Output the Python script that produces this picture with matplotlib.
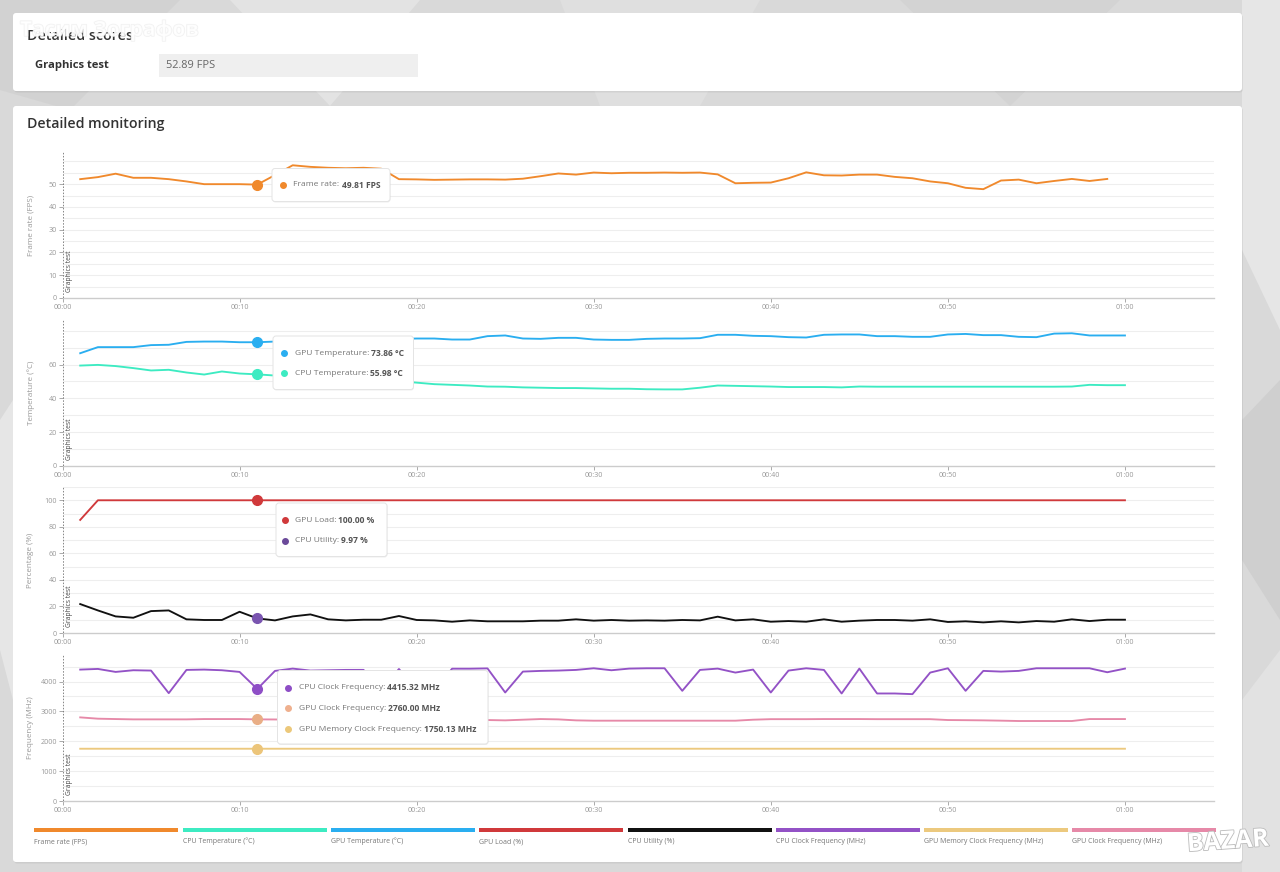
import numpy as np
import matplotlib.pyplot as plt
import matplotlib as mpl
from matplotlib.patches import FancyBboxPatch, Rectangle, Polygon
import matplotlib.patheffects as pe

mpl.rcParams.update({
    "font.family": ["Open Sans", "DejaVu Sans"],
    "font.size": 6,
    "axes.linewidth": 0.8,
})

W, H = 1280, 872

# ---- data (one sample per second, starting at 00:01) ----
seconds = list(range(1, 61))

frame_rate = [52.2, 53.1, 54.6, 52.8, 52.8, 52.2, 51.2, 50.0, 50.0, 50.0,
              49.81, 54.0, 58.3, 57.6, 57.2, 57.0, 57.2, 56.8, 52.2, 52.1,
              51.9, 52.0, 52.1, 52.1, 52.0, 52.4, 53.5, 54.7, 54.2, 55.1,
              54.8, 55.0, 55.0, 55.1, 55.0, 55.1, 54.3, 50.4, 50.6, 50.7,
              52.6, 55.2, 53.9, 53.8, 54.2, 54.2, 53.2, 52.6, 51.2, 50.4,
              48.4, 47.8, 51.6, 52.0, 50.4, 51.4, 52.3, 51.4, 52.3]

gpu_temp = [66.7, 70.3, 70.3, 70.3, 71.5, 71.7, 73.4, 73.6, 73.6, 73.2,
            73.2, 73.6, 74.0, 74.3, 74.6, 74.8, 75.0, 75.0, 75.2, 75.4,
            75.4, 74.8, 74.8, 76.8, 77.2, 75.4, 75.2, 75.8, 75.8, 74.8,
            74.6, 74.6, 75.2, 75.4, 75.4, 75.6, 77.6, 77.6, 77.0, 76.8,
            76.2, 76.0, 77.6, 77.8, 77.8, 76.8, 76.8, 76.4, 76.4, 77.8,
            78.1, 77.4, 77.4, 76.4, 76.2, 78.3, 78.5, 77.2, 77.2, 77.2]

cpu_temp = [59.4, 59.8, 59.1, 57.9, 56.5, 56.9, 55.3, 54.1, 55.9, 54.7,
            54.2, 53.5, 53.0, 52.5, 52.0, 51.5, 51.0, 50.6, 50.2, 49.3,
            48.4, 48.0, 47.6, 47.0, 46.9, 46.5, 46.3, 46.1, 46.1, 45.9,
            45.7, 45.7, 45.4, 45.3, 45.3, 46.3, 47.6, 47.4, 47.2, 47.0,
            46.7, 46.7, 46.7, 46.5, 47.0, 46.9, 46.9, 46.9, 46.9, 46.9,
            46.9, 46.9, 46.9, 46.9, 46.9, 46.9, 47.0, 48.0, 47.8, 47.8]

gpu_load = [85.2, 100.0, 100.0, 100.0, 100.0, 100.0, 100.0, 100.0, 100.0, 100.0,
            100.0, 100.0, 100.0, 100.0, 100.0, 100.0, 100.0, 100.0, 100.0, 100.0,
            100.0, 100.0, 100.0, 100.0, 100.0, 100.0, 100.0, 100.0, 100.0, 100.0,
            100.0, 100.0, 100.0, 100.0, 100.0, 100.0, 100.0, 100.0, 100.0, 100.0,
            100.0, 100.0, 100.0, 100.0, 100.0, 100.0, 100.0, 100.0, 100.0, 100.0,
            100.0, 100.0, 100.0, 100.0, 100.0, 100.0, 100.0, 100.0, 100.0, 100.0]

cpu_util = [21.8, 17.0, 12.5, 11.5, 16.5, 17.0, 10.3, 9.8, 9.8, 16.0,
            11.0, 9.5, 12.5, 14.0, 10.3, 9.5, 10.0, 10.0, 12.8, 9.8,
            9.5, 8.5, 9.5, 8.8, 8.8, 8.8, 9.3, 9.3, 10.3, 9.3,
            9.8, 9.3, 9.5, 9.3, 9.8, 9.5, 12.3, 9.5, 10.3, 8.5,
            9.0, 8.5, 10.3, 8.5, 9.3, 9.8, 9.8, 9.3, 10.3, 8.3,
            8.8, 8.0, 8.8, 8.0, 9.0, 8.5, 10.3, 9.0, 10.0, 10.0]

cpu_clock = [4400, 4422, 4322, 4378, 4367, 3611, 4389, 4400, 4378, 4322,
             3750, 4356, 4433, 4367, 4378, 4389, 4390, 3700, 4420, 3700,
             3680, 4430, 4430, 4440, 3633, 4333, 4356, 4367, 4389, 4444,
             4378, 4433, 4444, 4444, 3689, 4389, 4433, 4300, 4400, 3633,
             4367, 4444, 4389, 3600, 4433, 3600, 3600, 3578, 4300, 4444,
             3689, 4356, 4333, 4356, 4444, 4444, 4444, 4444, 4311, 4433]

gpu_clock = [2800, 2756, 2744, 2733, 2733, 2733, 2733, 2744, 2744, 2744,
             2733, 2730, 2725, 2722, 2720, 2720, 2718, 2716, 2715, 2714,
             2713, 2712, 2711, 2711, 2700, 2722, 2744, 2733, 2700, 2689,
             2689, 2689, 2689, 2689, 2689, 2689, 2689, 2689, 2722, 2740,
             2740, 2740, 2744, 2744, 2744, 2740, 2740, 2740, 2740, 2711,
             2706, 2700, 2690, 2678, 2678, 2678, 2678, 2744, 2744, 2744]

mem_clock = [1750, 1750, 1750, 1750, 1750, 1750, 1750, 1750, 1750, 1750,
             1750.13, 1750, 1750, 1750, 1750, 1750, 1750, 1750, 1750, 1750,
             1750, 1750, 1750, 1750, 1750, 1750, 1750, 1750, 1750, 1750,
             1750, 1750, 1750, 1750, 1750, 1750, 1750, 1750, 1750, 1750,
             1750, 1750, 1750, 1750, 1750, 1750, 1750, 1750, 1750, 1750,
             1750, 1750, 1750, 1750, 1750, 1750, 1750, 1750, 1750, 1750]

xtick_vals = [0, 10, 20, 30, 40, 50, 60]
xtick_labels = ["00:00", "00:10", "00:20", "00:30", "00:40", "00:50", "01:00"]

ylabels = ["Frame rate (FPS)", "Temperature (°C)", "Percentage (%)", "Frequency (MHz)"]
yticks = [[0, 10, 20, 30, 40, 50],
          [0, 20, 40, 60],
          [0, 20, 40, 60, 80, 100],
          [0, 1000, 2000, 3000, 4000]]
grid_steps = [5, 10, 10, 500]

C_FPS, C_CPUT, C_GPUT = "#f0892c", "#3debc2", "#2aaef0"
C_LOAD, C_UTIL, C_CPUF = "#d0393b", "#111111", "#9352c6"
C_MEM, C_GPUF = "#ecc97e", "#e689a8"

# (series, line colour, hover-marker colour)
panel_series = [
    [(frame_rate, C_FPS, C_FPS)],
    [(gpu_temp, C_GPUT, C_GPUT), (cpu_temp, C_CPUT, C_CPUT)],
    [(gpu_load, C_LOAD, C_LOAD), (cpu_util, C_UTIL, "#7a55b0")],
    [(cpu_clock, C_CPUF, "#8e4ec6"), (gpu_clock, C_GPUF, "#e9ae86"), (mem_clock, C_MEM, "#ecc57a")],
]
hover_t = 11

legend_names = ["Frame rate (FPS)", "CPU Temperature (°C)", "GPU Temperature (°C)", "GPU Load (%)",
                "CPU Utility (%)", "CPU Clock Frequency (MHz)", "GPU Memory Clock Frequency (MHz)",
                "GPU Clock Frequency (MHz)"]
legend_colors = [C_FPS, C_CPUT, C_GPUT, C_LOAD, C_UTIL, C_CPUF, C_MEM, C_GPUF]

tooltips = [
    [("Frame rate: ", "49.81 FPS", C_FPS)],
    [("GPU Temperature: ", "73.86 °C", C_GPUT), ("CPU Temperature: ", "55.98 °C", C_CPUT)],
    [("GPU Load: ", "100.00 %", C_LOAD), ("CPU Utility: ", "9.97 %", "#6b4a9a")],
    [("CPU Clock Frequency: ", "4415.32 MHz", "#8e4ec6"),
     ("GPU Clock Frequency: ", "2760.00 MHz", "#efb08e"),
     ("GPU Memory Clock Frequency: ", "1750.13 MHz", "#ecc87a")],
]

# ---- layout (pixels) ----
AX_LEFT, AX_W, AX_H = 62.5, 1151, 146
panel_tops = [152, 320, 487, 655]
tip_boxes = [(272, 168.5, 390, 201.5), (273, 336, 413.5, 389.5),
             (276, 503, 387, 556.5), (277.5, 670.5, 488, 744)]
tip_rows = [[185], [353.3, 373.3], [520.3, 540.7], [687.7, 708.3, 729]]
tip_dot_dx = [10.7, 10.7, 8.5, 10.5]
tip_text_dx = [21.3, 21.7, 18.7, 21.3]

fig = plt.figure(figsize=(W / 100, H / 100), dpi=100)
fig.patch.set_facecolor("#d9d9d9")

bg = fig.add_axes([0, 0, 1, 1], zorder=-2)
bg.set_xlim(0, W)
bg.set_ylim(H, 0)
bg.axis("off")

# faint background facets
for pts, c in [([(0, 0), (180, 0), (70, 110), (0, 90)], "#d2d2d2"),
               ([(230, 0), (420, 0), (330, 106)], "#e3e3e3"),
               ([(560, 0), (760, 0), (700, 106), (600, 106)], "#dfdfdf"),
               ([(900, 0), (1120, 0), (1010, 106)], "#d3d3d3"),
               ([(1242, 0), (1280, 0), (1280, 330), (1242, 250)], "#e6e6e6"),
               ([(1242, 420), (1280, 380), (1280, 620), (1242, 560)], "#cfcfcf"),
               ([(1242, 700), (1280, 650), (1280, 872), (1242, 872)], "#e2e2e2"),
               ([(0, 420), (13, 400), (13, 700), (0, 650)], "#e6e6e6")]:
    bg.add_patch(Polygon(pts, closed=True, facecolor=c, edgecolor="none"))

for (x0, y0, x1, y1) in [(13, 13, 1242, 91), (13, 106, 1242, 862)]:
    bg.add_patch(FancyBboxPatch((x0 + 1, y0 + 1.5), x1 - x0, y1 - y0,
                                boxstyle="round,pad=0,rounding_size=3",
                                facecolor="#000000", alpha=0.06, edgecolor="none"))
    bg.add_patch(FancyBboxPatch((x0, y0), x1 - x0, y1 - y0,
                                boxstyle="round,pad=0,rounding_size=3",
                                facecolor="white", edgecolor="none"))

bg.text(27, 36, "Detailed scores", fontsize=10.3, weight="semibold", color="#333333", va="center")
bg.text(20, 30, "Тасим Зографов", fontsize=15, weight="bold", color="white", alpha=0.75, va="center",
        path_effects=[pe.withStroke(linewidth=1.0, foreground="#ececec")])
bg.text(35, 65.5, "Graphics test", fontsize=8.1, weight="bold", color="#333333", va="center")
bg.add_patch(Rectangle((159, 54), 259, 23, facecolor="#efefef", edgecolor="none"))
bg.text(166, 66, "52.89 FPS", fontsize=7.9, color="#666666", va="center")
bg.text(27, 124, "Detailed monitoring", fontsize=10.2, weight="semibold", color="#333333", va="center")

# ---- charts ----
for i, top in enumerate(panel_tops):
    ax = fig.add_axes([AX_LEFT / W, 1 - (top + AX_H) / H, AX_W / W, AX_H / H])
    ax.set_facecolor("none")
    ymax = 1.1 * max(max(s) for s, _, _ in panel_series[i])
    ax.set_xlim(0, 65)
    ax.set_ylim(0, ymax)

    grid = np.arange(grid_steps[i], ymax, grid_steps[i])
    ax.hlines(grid, 0, 65, color="#eeeeee", lw=0.8, zorder=0)

    for s, c, _ in panel_series[i]:
        ax.plot(seconds[:len(s)], s, color=c, lw=1.35, zorder=2, solid_joinstyle="round")
    for s, _, mc in panel_series[i]:
        ax.plot(hover_t, s[hover_t - 1], "o", ms=7, color=mc, zorder=4, clip_on=False)

    # "Graphics test" marker line
    ax.vlines(0, 0, ymax, color="#666666", lw=1.1, linestyles=(0, (1, 1)), zorder=3)
    ax.text(0.0062, 0.04, "Graphics test", transform=ax.transAxes, rotation=90,
            ha="center", va="bottom", fontsize=4.9, color="#444444")

    for side in ["left", "top", "right"]:
        ax.spines[side].set_visible(False)
    ax.spines["bottom"].set_color("#cccccc")
    ax.spines["bottom"].set_linewidth(1)

    ax.set_xticks(xtick_vals)
    ax.set_xticklabels(xtick_labels)
    ax.set_yticks(yticks[i])
    ax.tick_params(axis="both", length=3, width=0.7, color="#aaaaaa",
                   labelcolor="#999999", labelsize=5.2)
    ax.tick_params(axis="x", pad=1.5)
    ax.tick_params(axis="y", pad=1)
    ax.text(-0.0274, 0.5, ylabels[i], transform=ax.transAxes, rotation=90,
            ha="center", va="center", fontsize=5.8, color="#999999")

# ---- tooltips and legend on top ----
fg = fig.add_axes([0, 0, 1, 1], zorder=6)
fg.set_xlim(0, W)
fg.set_ylim(H, 0)
fg.axis("off")

for box, rows, ys, ddx, tdx in zip(tip_boxes, tooltips, tip_rows, tip_dot_dx, tip_text_dx):
    x0, y0, x1, y1 = box
    fg.add_patch(FancyBboxPatch((x0 + 0.5, y0 + 1), x1 - x0, y1 - y0,
                                boxstyle="round,pad=0,rounding_size=3",
                                facecolor="#000000", alpha=0.07, edgecolor="none"))
    fg.add_patch(FancyBboxPatch((x0, y0), x1 - x0, y1 - y0,
                                boxstyle="round,pad=0,rounding_size=3",
                                facecolor="white", edgecolor="#e4e4e4", lw=0.7))
    for (lab, val, c), y in zip(rows, ys):
        fg.plot(x0 + ddx, y, "o", ms=4, color=c)
        t1 = fg.text(x0 + tdx, y, lab, fontsize=6.1, color="#777777", va="center", ha="left")
        fg.annotate(val, xy=(1, 0.5), xycoords=t1, fontsize=6.1, weight="bold",
                    color="#555555", va="center", ha="left")

for k, (name, c) in enumerate(zip(legend_names, legend_colors)):
    lx = 34.3 + k * 148.3
    fg.add_patch(Rectangle((lx, 828), 144, 4.2, facecolor=c, edgecolor="none"))
    fg.text(lx, 841.5, name, fontsize=5, color="#777777", va="center", ha="left")

fg.text(1228, 842, "BAZAR", fontsize=18, weight="bold", color="white", ha="center", va="center",
        rotation=4, path_effects=[pe.withStroke(linewidth=1.2, foreground="#bbbbbb")])

fig.savefig("out.png", dpi=100, facecolor=fig.get_facecolor())
